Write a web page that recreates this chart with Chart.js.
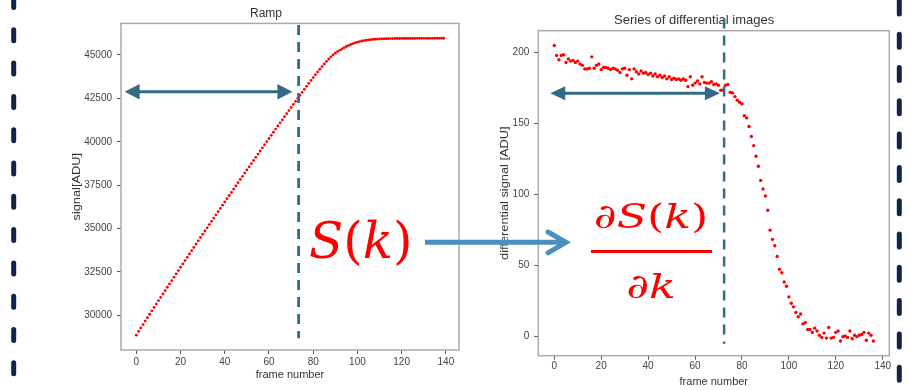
<!DOCTYPE html>
<html>
<head>
<meta charset="utf-8">
<script src="https://cdn.jsdelivr.net/npm/chart.js@4.4.1/dist/chart.umd.min.js"></script>
<style>
  html, body { margin: 0; padding: 0; background: #fff; }
  #page { position: relative; width: 907px; height: 390px; overflow: hidden; }
  .box { position: absolute; top: 0; height: 390px; }
  #overlay { position: absolute; left: 0; top: 0; pointer-events: none; }
  .math { position: absolute; color: #ff0000; font-family: "DejaVu Serif", serif; white-space: nowrap; }
  .math i { font-style: italic; }
  #sk { left: 309px; top: 216px; font-size: 50px; line-height: 50px; }
  .frac { left: 551px; width: 200px; text-align: center; font-size: 34px; line-height: 34px; transform: scaleX(1.3); }
  #num { top: 199px; }
  #den { top: 269px; }
  #bar { position: absolute; left: 591px; top: 249.5px; width: 121px; height: 3.5px; background: #ff0000; }
</style>
</head>
<body>
<div id="page">
  <div class="box" style="left:60px;width:410px;"><canvas id="rampChart"></canvas></div>
  <div class="box" style="left:480px;width:420px;"><canvas id="diffChart"></canvas></div>
  <canvas id="overlay" width="907" height="390"></canvas>
  <div class="math" id="sk"><i>S</i>(<i>k</i>)</div>
  <div class="math frac" id="num"><i>∂S</i>(<i>k</i>)</div>
  <div id="bar"></div>
  <div class="math frac" id="den"><i>∂k</i></div>
</div>
<script>
// ramp: accumulated signal per frame
const rampSignal = [
  28860, 29075, 29275, 29470, 29670, 29870, 30065, 30260, 30455, 30650,
  30845, 31040, 31235, 31425, 31620, 31810, 32000, 32200, 32390, 32580,
  32775, 32965, 33155, 33345, 33535, 33725, 33915, 34105, 34295, 34485,
  34670, 34860, 35045, 35230, 35420, 35605, 35790, 35975, 36160, 36350,
  36535, 36720, 36905, 37090, 37275, 37460, 37645, 37830, 38010, 38195,
  38380, 38560, 38745, 38925, 39105, 39290, 39470, 39650, 39830, 40010,
  40190, 40370, 40550, 40730, 40910, 41090, 41265, 41445, 41620, 41800,
  41975, 42150, 42325, 42500, 42675, 42850, 43025, 43195, 43365, 43535,
  43700, 43865, 44025, 44180, 44330, 44480, 44630, 44770, 44895, 45005,
  45105, 45195, 45270, 45345, 45420, 45490, 45550, 45605, 45655, 45700,
  45740, 45775, 45805, 45830, 45850, 45870, 45885, 45898, 45908, 45916,
  45922, 45928, 45933, 45937, 45940, 45944, 45945, 45950, 45950, 45951,
  45953, 45955, 45954, 45955, 45956, 45957, 45957, 45960, 45959, 45960,
  45960, 45961, 45963, 45962, 45963, 45965, 45962, 45963, 45964, 45964
];

// differential images
const diffSignal = [
  205, 198, 195, 198, 198.5, 193, 195.5, 194, 194.5, 193,
  194, 192, 191, 188.5, 188.5, 189, 197, 189, 191, 192,
  188, 189.5, 189.5, 189, 188, 189, 188.5, 187.5, 186, 188.5,
  189, 184, 188, 181.5, 188.5, 186.5, 185, 187, 185.5, 186,
  184.5, 185.5, 183.5, 185, 183, 184, 182.5, 183.5, 181.5, 183,
  181, 182, 181, 181.5, 180.5, 181.5, 180.5, 176, 183, 177,
  178.5, 180, 178, 183, 179, 178.5, 178.5, 179.5, 177.5, 178,
  177, 173.5, 173.5, 177, 177.5, 172, 171.5, 169, 166.5, 165,
  164, 155.5, 154, 148, 141, 134.5, 127, 120, 110, 104,
  99, 89, 75, 68.5, 64, 56.5, 47.5, 45, 38.5, 35.5,
  28, 23.5, 21, 17, 14, 16, 9, 10, 5, 5,
  3, 6, 4, 1, -0.5, 2.5, -1, 6.5, -1, -0.5,
  3, 4, -3, 0, 0.5, -0.5, 4, -1.5, 1, 0,
  1, 1.5, 3, -2.5, 2.5, 1, -3
];

const frameTicks = [0, 20, 40, 60, 80, 100, 120, 140];
const rampTicks = [30000, 32500, 35000, 37500, 40000, 42500, 45000];
const diffTicks = [0, 50, 100, 150, 200];

Chart.defaults.font.family = '"Liberation Sans", "DejaVu Sans", sans-serif';
Chart.defaults.color = '#444';

const markerPlugin = {
  id: 'markers',
  afterDraw(chart, args, opts) {
    const { ctx, chartArea: a } = chart;
    const x = chart.scales.x, y = chart.scales.y;
    ctx.save();
    // plot frame
    ctx.strokeStyle = '#ababab';
    ctx.lineWidth = 1.5;
    ctx.strokeRect(a.left, a.top, a.right - a.left, a.bottom - a.top);

    // y axis title, stretched along its length like the source image
    ctx.save();
    ctx.translate(y.left + opts.titleOffset, (a.top + a.bottom) / 2);
    ctx.rotate(-Math.PI / 2);
    ctx.scale(1.28, 1);
    ctx.font = '10px "Liberation Sans", "DejaVu Sans", sans-serif';
    ctx.fillStyle = '#333';
    ctx.textAlign = 'center';
    ctx.textBaseline = 'middle';
    ctx.fillText(opts.yTitle, 0, 0);
    ctx.restore();

    // dashed frame marker
    const lx = x.getPixelForValue(opts.lineX);
    ctx.strokeStyle = '#336b8a';
    ctx.lineWidth = opts.lineWidth;
    ctx.setLineDash([10, 7]);
    ctx.beginPath();
    ctx.moveTo(lx, y.getPixelForValue(opts.lineTop));
    ctx.lineTo(lx, y.getPixelForValue(opts.lineBottom));
    ctx.stroke();
    ctx.setLineDash([]);

    // double arrow
    const ay = y.getPixelForValue(opts.arrowY);
    const x0 = x.getPixelForValue(opts.arrowFrom);
    const x1 = x.getPixelForValue(opts.arrowTo);
    const len = 15, half = opts.headHalf;
    ctx.strokeStyle = '#336b87';
    ctx.fillStyle = '#336b87';
    ctx.lineWidth = 3;
    ctx.beginPath();
    ctx.moveTo(x0 + len - 2, ay);
    ctx.lineTo(x1 - len + 2, ay);
    ctx.stroke();
    ctx.beginPath();
    ctx.moveTo(x0, ay); ctx.lineTo(x0 + len, ay - half); ctx.lineTo(x0 + len, ay + half);
    ctx.closePath(); ctx.fill();
    ctx.beginPath();
    ctx.moveTo(x1, ay); ctx.lineTo(x1 - len, ay - half); ctx.lineTo(x1 - len, ay + half);
    ctx.closePath(); ctx.fill();
    ctx.restore();
  }
};

function axisOptions(ticks, min, max, title, fit, tickPad) {
  return {
    type: 'linear',
    min: min,
    max: max,
    afterBuildTicks: s => { s.ticks = ticks.map(v => ({ value: v })); },
    afterFit: fit,
    ticks: { font: { size: 10 }, color: '#444', padding: tickPad, callback: v => String(v) },
    grid: { drawOnChartArea: false, drawTicks: true, tickLength: 4, color: '#555' },
    border: { display: false },
    title: { display: !!title, text: title, font: { size: 11 }, color: '#333', padding: 0 }
  };
}

function makeChart(id, values, radius, opts) {
  return new Chart(document.getElementById(id), {
    type: 'scatter',
    data: {
      datasets: [{
        data: values.map((v, i) => ({ x: i, y: v })),
        backgroundColor: '#ff0000',
        borderWidth: 0,
        pointRadius: radius,
        pointHoverRadius: radius
      }]
    },
    options: {
      responsive: true,
      maintainAspectRatio: false,
      animation: false,
      layout: { padding: opts.padding },
      plugins: {
        legend: { display: false },
        tooltip: { enabled: false },
        title: { display: true, text: opts.title, font: { size: opts.titleSize, weight: 'normal' }, color: '#333', padding: opts.titlePad },
        markers: opts.markers
      },
      scales: { x: opts.x, y: opts.y }
    },
    plugins: [markerPlugin]
  });
}

makeChart('rampChart', rampSignal, 1.4, {
  title: 'Ramp', titleSize: 12, titlePad: { top: 6, bottom: 3 },
  padding: { left: 13, right: 11, top: 0, bottom: 8 },
  x: axisOptions(frameTicks, -6.95, 145.95, 'frame number', s => { s.height = 32; }, 2),
  y: axisOptions(rampTicks, 28005, 46820, '', s => { s.width = 48; }, 5),
  markers: { yTitle: 'signal[ADU]', titleOffset: 4.5,
             lineX: 73.4, lineTop: 46730, lineBottom: 28680, lineWidth: 2.8,
             arrowY: 42880, arrowFrom: -5.3, arrowTo: 70.6, headHalf: 7.7 }
});

makeChart('diffChart', diffSignal, 1.7, {
  title: 'Series of differential images', titleSize: 13, titlePad: { top: 13, bottom: 2.1 },
  padding: { left: 19, right: 10.7, top: 0, bottom: 1.4 },
  x: axisOptions(frameTicks, -6.8, 142.8, 'frame number', s => { s.height = 32.9; }, 1),
  y: axisOptions(diffTicks, -13.4, 215.4, '', s => { s.width = 39.3; }, 5),
  markers: { yTitle: 'differential signal [ADU]', titleOffset: 6.5,
             lineX: 72.4, lineTop: 224, lineBottom: -5, lineWidth: 2.5,
             arrowY: 171.3, arrowFrom: -1.7, arrowTo: 70.6, headHalf: 7 }
});

// page decorations: side borders and the S(k) -> dS/dk arrow
const octx = document.getElementById('overlay').getContext('2d');

function sideBorder(x, start, dash, gap) {
  octx.save();
  octx.strokeStyle = '#12244a';
  octx.lineWidth = 5;
  octx.lineCap = 'round';
  octx.setLineDash([dash, gap]);
  octx.beginPath();
  octx.moveTo(x, start);
  octx.lineTo(x, 400);
  octx.stroke();
  octx.restore();
}
sideBorder(13.7, -3.5, 11, 22.3);
sideBorder(899.3, 0.9, 13, 20.3);

octx.save();
octx.strokeStyle = '#4a90be';
octx.lineWidth = 5;
octx.beginPath();
octx.moveTo(425, 242.3);
octx.lineTo(565, 242.3);
octx.stroke();
octx.lineCap = 'round';
octx.beginPath();
octx.moveTo(548, 232);
octx.lineTo(566, 242.3);
octx.lineTo(548, 252.8);
octx.stroke();
octx.restore();
</script>
</body>
</html>
